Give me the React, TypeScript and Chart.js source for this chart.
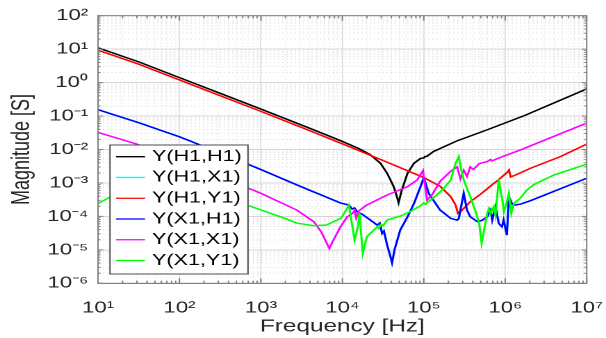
import { useEffect, useRef } from 'react';
import { Chart, registerables } from 'chart.js';

Chart.register(...registerables);

// ---- Admittance magnitudes |Y| [S] versus frequency [Hz] ----

// Y(H1,H1)
const h1h1Freq = [10, 31.6, 100, 316, 1000, 3162, 6310, 1.0e4, 1.585e4, 2.188e4, 2.931e4, 3.548e4, 4.266e4, 4.677e4, 4.898e4, 5.37e4, 6.31e4, 7.586e4, 9.12e4, 1.0e5, 1.035e5, 1.084e5, 1.318e5, 2.512e5, 6.026e5, 1.7e6, 1.0e7];
const h1h1Mag = [11.0, 4.17, 1.41, 0.479, 0.162, 0.0537, 0.0275, 0.0174, 0.0107, 7.08e-3, 3.89e-3, 1.95e-3, 7.76e-4, 3.89e-4, 2.57e-4, 6.17e-4, 1.95e-3, 3.89e-3, 5.4e-3, 5.6e-3, 6.2e-3, 6.2e-3, 8.7e-3, 0.0178, 0.0389, 0.102, 0.646];

// Y(X1,H1)
const x1h1Freq = [10, 31.6, 100, 316, 1000, 3162, 9550, 1.202e4, 1.318e4, 1.413e4, 1.514e4, 1.738e4, 2.208e4, 2.673e4, 2.884e4, 3.076e4, 3.236e4, 3.548e4, 3.89e4, 4.074e4, 4.365e4, 5.129e4, 6.31e4, 7.586e4, 9.12e4, 1.0e5, 1.148e5, 1.585e5, 2.138e5, 2.57e5, 2.692e5, 3.09e5, 3.388e5, 3.715e5, 4.571e5, 5.248e5, 6.026e5, 6.607e5, 6.918e5, 7.586e5, 8.318e5, 9.12e5, 9.55e5, 1.047e6, 1.109e6, 1.222e6, 1.318e6, 1.549e6, 2.042e6, 1.0e7];
const x1h1Mag = [0.155, 0.0631, 0.024, 7.94e-3, 2.51e-3, 7.59e-4, 2.51e-4, 2.19e-4, 1.66e-4, 1.78e-4, 1.38e-4, 1.17e-4, 7.76e-5, 5.5e-5, 6.31e-5, 3.09e-5, 3.63e-5, 1.38e-5, 6.31e-6, 4.07e-6, 1.0e-5, 3.89e-5, 9.77e-5, 2.45e-4, 7.76e-4, 1.45e-3, 4.9e-4, 1.55e-4, 8.71e-5, 7.76e-5, 8.71e-5, 4.9e-4, 1.55e-4, 9.77e-5, 6.92e-5, 7.76e-5, 9.77e-5, 1.55e-4, 7.76e-5, 1.95e-4, 6.17e-5, 4.9e-5, 7.76e-5, 2.75e-5, 3.89e-4, 2.29e-4, 2.19e-4, 2.34e-4, 2.95e-4, 1.38e-3];

// Y(H1,X1): reciprocal network, identical to Y(X1,H1)
const h1x1Freq = x1h1Freq;
const h1x1Mag = x1h1Mag;

// Y(H1,Y1)
const h1y1Freq = [10, 31.6, 100, 316, 1000, 3162, 1.0e4, 3.162e4, 1.0e5, 1.585e5, 2.138e5, 2.455e5, 2.63e5, 2.818e5, 3.715e5, 5.012e5, 6.607e5, 8.71e5, 1.07e6, 1.114e6, 1.164e6, 1.35e6, 2.04e6, 4.79e6, 1.0e7];
const h1y1Mag = [9.33, 3.55, 1.2, 0.407, 0.138, 0.0457, 0.0148, 4.68e-3, 1.45e-3, 7.94e-4, 3.89e-4, 2.19e-4, 1.23e-4, 1.38e-4, 2.75e-4, 4.68e-4, 8.13e-4, 1.38e-3, 2.14e-3, 2.45e-3, 1.51e-3, 1.74e-3, 2.75e-3, 6.17e-3, 0.0145];

// Y(X1,X1)
const x1x1Freq = [10, 29.9, 100, 316, 708, 1000, 2754, 4467, 5495, 6310, 6918, 7762, 9550, 1.148e4, 1.318e4, 1.413e4, 1.479e4, 1.585e4, 1.995e4, 3.548e4, 6.31e4, 8.318e4, 9.772e4, 1.096e5, 1.259e5, 1.585e5, 2.138e5, 2.57e5, 2.818e5, 3.09e5, 3.388e5, 3.715e5, 4.074e5, 4.786e5, 6.026e5, 6.607e5, 6.839e5, 9.55e5, 1.549e6, 1.0e7];
const x1x1Mag = [0.0324, 0.0145, 4.47e-3, 1.45e-3, 6.92e-4, 4.9e-4, 1.55e-4, 6.92e-5, 3.47e-5, 1.74e-5, 1.1e-5, 1.95e-5, 5.01e-5, 9.77e-5, 1.2e-4, 1.51e-4, 8.91e-5, 1.45e-4, 2.19e-4, 4.37e-4, 7.76e-4, 1.23e-3, 2.34e-3, 3.09e-4, 4.37e-4, 1.12e-3, 2.24e-3, 3.02e-3, 1.32e-3, 2.4e-3, 1.55e-3, 3.02e-3, 2.51e-3, 3.8e-3, 4.37e-3, 5.01e-3, 4.57e-3, 6.31e-3, 9.77e-3, 0.0617];

// Y(X1,Y1)
const x1y1Freq = [10, 14.13, 19.95, 39.81, 100, 316, 708, 1778, 2754, 4467, 6310, 7762, 9550, 1.047e4, 1.148e4, 1.202e4, 1.413e4, 1.549e4, 1.622e4, 1.778e4, 1.995e4, 2.427e4, 2.692e4, 2.818e4, 2.951e4, 3.162e4, 3.548e4, 5.129e4, 6.761e4, 9.12e4, 1.0e5, 1.047e5, 1.148e5, 1.445e5, 1.778e5, 2.138e5, 2.455e5, 2.692e5, 2.818e5, 3.09e5, 3.715e5, 4.266e5, 4.786e5, 5.129e5, 5.495e5, 5.998e5, 6.31e5, 6.607e5, 7.244e5, 7.586e5, 8.318e5, 9.204e5, 9.638e5, 1.009e6, 1.109e6, 1.186e6, 1.276e6, 1.538e6, 1.862e6, 2.239e6, 3.981e6, 6.31e6, 1.0e7];
const x1y1Mag = [2.45e-4, 3.8e-4, 4.9e-4, 5.25e-4, 4.37e-4, 3.16e-4, 2.09e-4, 9.55e-5, 6.31e-5, 5.25e-5, 5.5e-5, 6.92e-5, 8.71e-5, 1.2e-4, 1.78e-4, 2.19e-4, 1.95e-5, 4.9e-5, 1.29e-4, 7.94e-6, 2.45e-5, 3.89e-5, 4.9e-5, 4.37e-5, 5.75e-5, 5.25e-5, 7.76e-5, 1.02e-4, 1.38e-4, 2.09e-4, 2.51e-4, 2.29e-4, 2.82e-4, 4.37e-4, 7.08e-4, 1.23e-3, 3.89e-3, 6.17e-3, 3.09e-3, 1.23e-3, 3.89e-4, 1.55e-4, 6.17e-5, 1.55e-5, 3.89e-5, 1.23e-4, 1.74e-4, 1.23e-4, 1.95e-4, 1.1e-4, 1.29e-3, 3.09e-4, 1.38e-4, 1.95e-4, 4.9e-4, 1.23e-4, 2.45e-4, 3.55e-4, 6.31e-4, 8.91e-4, 1.74e-3, 2.51e-3, 3.63e-3];

const seriesLabels = ['Y(H1,H1)', 'Y(H1,X1)', 'Y(H1,Y1)', 'Y(X1,H1)', 'Y(X1,X1)', 'Y(X1,Y1)'];
const seriesColors = ['#000000', '#00ffff', '#ff0000', '#0000ff', '#ff00ff', '#00ff00'];
const seriesFreqs = [h1h1Freq, h1x1Freq, h1y1Freq, x1h1Freq, x1x1Freq, x1y1Freq];
const seriesMags = [h1h1Mag, h1x1Mag, h1y1Mag, x1h1Mag, x1x1Mag, x1y1Mag];

// Axis decades and their labels
const xTickExps = [1, 2, 3, 4, 5, 6, 7];
const xTickLabels = ['10¹', '10²', '10³', '10⁴', '10⁵', '10⁶', '10⁷'];
const yTickExps = [-6, -5, -4, -3, -2, -1, 0, 1, 2];
const yTickLabels = ['10⁻⁶', '10⁻⁵', '10⁻⁴', '10⁻³', '10⁻²', '10⁻¹', '10⁰', '10¹', '10²'];

// ---- styling ----
const FONT = '"Liberation Sans", Arial, Helvetica, sans-serif';
const TEXT = '#262626';
const AXIS = '#808080';
const GRID_MAJOR = '#d6d6d6';
const GRID_MINOR = '#e2e2e2';
const CLEAR = 'rgba(0,0,0,0)';
const CANVAS_W = 436; // drawing width, displayed stretched to 606 px
const CANVAS_H = 338;
const SX = 606 / CANVAS_W;

function logTicks(exps: number[]) {
  const ticks: { value: number; major: boolean }[] = [];
  for (let i = 0; i < exps.length - 1; i++) {
    for (let m = 1; m <= 9; m++) {
      ticks.push({ value: Number((m * Math.pow(10, exps[i])).toPrecision(10)), major: m === 1 });
    }
  }
  ticks.push({ value: Math.pow(10, exps[exps.length - 1]), major: true });
  return ticks;
}

function decadeLabel(value: number, exps: number[], labels: string[]) {
  const e = Math.log10(value);
  const i = exps.findIndex((d) => Math.abs(d - e) < 1e-6);
  return i >= 0 ? labels[i] : '';
}

const gridColor = (ctx: any) => (ctx.tick && ctx.tick.major ? GRID_MAJOR : GRID_MINOR);
const gridDash = (ctx: any) => (ctx.tick && !ctx.tick.major ? [1, 2] : []);

// Box around the axes with inward tick marks on all four sides
const framePlugin = {
  id: 'axesFrame',
  afterDatasetsDraw(chart: any) {
    const { ctx, chartArea: a, scales } = chart;
    ctx.save();
    ctx.strokeStyle = AXIS;
    ctx.lineWidth = 1;
    ctx.strokeRect(a.left, a.top, a.right - a.left, a.bottom - a.top);
    ctx.beginPath();
    for (const t of scales.x.ticks) {
      const px = scales.x.getPixelForValue(t.value);
      const len = t.major ? 5 : 2.5;
      ctx.moveTo(px, a.bottom);
      ctx.lineTo(px, a.bottom - len);
      ctx.moveTo(px, a.top);
      ctx.lineTo(px, a.top + len);
    }
    for (const t of scales.y.ticks) {
      const py = scales.y.getPixelForValue(t.value);
      const len = (t.major ? 5 : 2.5) / SX;
      ctx.moveTo(a.left, py);
      ctx.lineTo(a.left + len, py);
      ctx.moveTo(a.right, py);
      ctx.lineTo(a.right - len, py);
    }
    ctx.stroke();
    ctx.restore();
  },
};

// Boxed legend in the lower-left corner of the plot
const legendPlugin = {
  id: 'boxedLegend',
  afterDraw(chart: any) {
    const { ctx } = chart;
    const box = { x: 110 / SX, y: 145, w: 138 / SX, h: 129 };
    const firstRow = 156.7;
    const rowGap = 20.76;
    ctx.save();
    ctx.fillStyle = '#ffffff';
    ctx.fillRect(box.x, box.y, box.w, box.h);
    ctx.strokeStyle = '#4d4d4d';
    ctx.lineWidth = 1;
    ctx.strokeRect(box.x, box.y, box.w, box.h);
    ctx.font = `15.5px ${FONT}`;
    ctx.textBaseline = 'middle';
    ctx.textAlign = 'left';
    chart.data.datasets.forEach((ds: any, i: number) => {
      const y = firstRow + i * rowGap;
      ctx.strokeStyle = ds.borderColor;
      ctx.lineWidth = 1.3;
      ctx.beginPath();
      ctx.moveTo(116 / SX, y);
      ctx.lineTo(145 / SX, y);
      ctx.stroke();
      ctx.fillStyle = '#000000';
      ctx.fillText(ds.label, 152 / SX, y);
    });
    ctx.restore();
  },
};

export default function App() {
  const canvasRef = useRef<HTMLCanvasElement | null>(null);

  useEffect(() => {
    document.body.style.margin = '0';
    const canvas = canvasRef.current;
    if (!canvas) return;

    const datasets = seriesLabels.map((label, i) => ({
      label,
      data: seriesFreqs[i].map((f, k) => ({ x: f, y: seriesMags[i][k] })),
      borderColor: seriesColors[i],
      backgroundColor: seriesColors[i],
      borderWidth: 1.5,
      pointRadius: 0,
      tension: 0,
      fill: false,
      order: seriesLabels.length - i,
    }));

    const chart = new Chart(canvas, {
      type: 'line',
      data: { datasets },
      options: {
        animation: false,
        responsive: false,
        maintainAspectRatio: false,
        devicePixelRatio: 2,
        events: [],
        layout: { padding: { left: 0, right: CANVAS_W - 586.7 / SX, top: 15.7, bottom: 0 } },
        plugins: { legend: { display: false }, tooltip: { enabled: false } },
        scales: {
          x: {
            type: 'logarithmic',
            position: 'bottom',
            min: 10,
            max: 1e7,
            afterBuildTicks: (s: any) => {
              s.ticks = logTicks(xTickExps);
            },
            afterFit: (s: any) => {
              s.height = CANVAS_H - 283.3;
            },
            grid: { color: gridColor, lineWidth: 1 / SX, drawTicks: true, tickLength: 15, tickColor: CLEAR },
            border: { display: true, color: AXIS, width: 1, dash: gridDash },
            ticks: {
              autoSkip: false,
              maxRotation: 0,
              minRotation: 0,
              padding: 0,
              color: TEXT,
              font: { family: FONT, size: 16 },
              callback: (v: any) => decadeLabel(Number(v), xTickExps, xTickLabels),
            },
            title: {
              display: true,
              text: 'Frequency [Hz]',
              color: TEXT,
              font: { family: FONT, size: 17.5 },
              padding: { top: 0, bottom: 1 },
            },
          },
          y: {
            type: 'logarithmic',
            min: 1e-6,
            max: 100,
            afterBuildTicks: (s: any) => {
              s.ticks = logTicks(yTickExps);
            },
            afterFit: (s: any) => {
              s.width = 98 / SX;
            },
            grid: { color: gridColor, lineWidth: 1, drawTicks: true, tickLength: 7, tickColor: CLEAR },
            border: { display: true, color: AXIS, width: 1, dash: gridDash },
            ticks: {
              autoSkip: false,
              padding: 0,
              color: TEXT,
              font: { family: FONT, size: 16 },
              callback: (v: any) => decadeLabel(Number(v), yTickExps, yTickLabels),
            },
            title: {
              display: true,
              text: 'Magnitude [S]',
              color: TEXT,
              font: { family: FONT, size: 18 },
              padding: { top: 5, bottom: 0 },
            },
          },
        },
      },
      plugins: [framePlugin, legendPlugin],
    } as any);

    return () => chart.destroy();
  }, []);

  return (
    <div style={{ position: 'absolute', left: 0, top: 0, width: 606, height: 338, background: '#ffffff' }}>
      <canvas
        ref={canvasRef}
        width={CANVAS_W}
        height={CANVAS_H}
        style={{ display: 'block', width: '606px', height: '338px' }}
      />
    </div>
  );
}
